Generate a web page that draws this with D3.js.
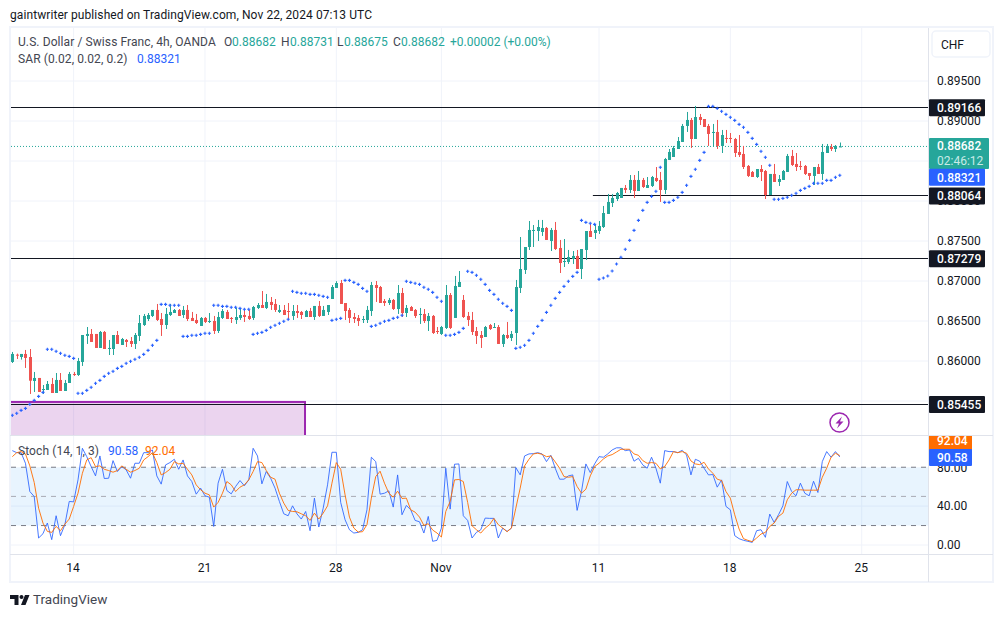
<!DOCTYPE html>
<html>
<head>
<meta charset="utf-8">
<script src="https://cdnjs.cloudflare.com/ajax/libs/d3/7.8.5/d3.min.js"></script>
<style>
    html, body { margin: 0; padding: 0; background: #fff; }
    svg { display: block; }
    text { font-family: Roboto, "Noto Sans", sans-serif; font-size: 12px; fill: #131722; }
    .axis path { display: none; }
</style>
</head>
<body>
<svg id="chart" width="1004" height="617"></svg>
<script>
// candles, 4h bars
const opens = [
    .85988,.86079,.86050,.86088,.86050,.85750,.85788,.85638,.85638,.85713,
    .85600,.85763,.85625,.85725,.85838,.85825,.85988,.86313,.86338,.86338,
    .86163,.86363,.86150,.86150,.86325,.86200,.86263,.86250,.86213,.86313,
    .86450,.86525,.86563,.86638,.86525,.86450,.86575,.86600,.86638,.86575,
    .86638,.86538,.86513,.86438,.86538,.86488,.86500,.86375,.86538,.86613,
    .86538,.86513,.86538,.86575,.86563,.86538,.86663,.86700,.86663,.86738,
    .86713,.86613,.86638,.86625,.86563,.86625,.86613,.86550,.86625,.86550,
    .86688,.86563,.86613,.86775,.86913,.86975,.86725,.86638,.86550,.86538,
    .86513,.86513,.86625,.86950,.86925,.86750,.86725,.86763,.86650,.86850,
    .86600,.86675,.86638,.86575,.86588,.86500,.86563,.86375,.86338,.86413,
    .86825,.86538,.86925,.86763,.86563,.86513,.86375,.86325,.86300,.86450,
    .86413,.86425,.86213,.86325,.86288,.86350,.86913,.87138,.87425,.87625,
    .87625,.87613,.87663,.87500,.87638,.87413,.87238,.87238,.87275,.87313,
    .87150,.87388,.87625,.87600,.87625,.87675,.87838,.87975,.88025,.88038,
    .88163,.88138,.88263,.88125,.88263,.88163,.88188,.88288,.88263,.88138,
    .88513,.88550,.88650,.88738,.88938,.89013,.88775,.89050,.89025,.88938,
    .88850,.88863,.88688,.88788,.88788,.88775,.88613,.88588,.88438,.88363,
    .88300,.88400,.88375,.88075,.88338,.88238,.88263,.88363,.88563,.88463,
    .88438,.88438,.88350,.88313,.88425,.88338,.88600,.88675,.88650,.88682
];
const highs = [
    .86113,.86092,.86088,.86138,.86150,.85863,.85788,.85700,.85750,.85788,
    .85850,.85850,.85763,.85863,.85863,.86038,.86325,.86425,.86400,.86338,
    .86375,.86375,.86263,.86325,.86375,.86288,.86275,.86300,.86350,.86575,
    .86588,.86600,.86638,.86713,.86600,.86663,.86713,.86650,.86650,.86688,
    .86700,.86613,.86588,.86550,.86550,.86600,.86563,.86613,.86650,.86638,
    .86550,.86663,.86663,.86638,.86638,.86688,.86725,.86875,.86838,.86800,
    .86775,.86700,.86700,.86725,.86700,.86700,.86625,.86638,.86663,.86688,
    .86750,.86688,.86700,.86950,.86998,.87013,.86725,.86663,.86600,.86575,
    .86563,.86688,.86988,.87000,.86938,.86775,.86788,.86775,.86950,.86913,
    .86700,.86688,.86650,.86663,.86650,.86600,.86575,.86425,.86438,.86950,
    .86850,.87063,.87125,.86825,.86613,.86613,.86425,.86375,.86438,.86463,
    .86475,.86450,.86338,.86488,.86375,.87013,.87550,.87425,.87750,.87700,
    .87763,.87763,.87675,.87663,.87738,.87513,.87525,.87388,.87375,.87388,
    .87400,.87625,.87713,.87713,.87750,.87938,.88088,.88088,.88113,.88163,
    .88200,.88325,.88325,.88375,.88288,.88300,.88313,.88425,.88363,.88538,
    .88650,.88688,.88800,.88963,.89113,.89038,.89188,.89088,.89025,.88963,
    .88963,.89013,.88888,.88888,.88850,.88788,.88825,.88688,.88450,.88375,
    .88400,.88450,.88388,.88338,.88463,.88325,.88388,.88588,.88638,.88600,
    .88500,.88450,.88350,.88425,.88463,.88713,.88713,.88713,.88700,.88731
];
const lows = [
    .85975,.86025,.86017,.85913,.85588,.85613,.85613,.85588,.85638,.85600,
    .85600,.85625,.85625,.85725,.85813,.85813,.85938,.86213,.86238,.86163,
    .86163,.86150,.86075,.86075,.86213,.86200,.86175,.86175,.86150,.86250,
    .86438,.86500,.86550,.86500,.86313,.86400,.86563,.86600,.86563,.86538,
    .86500,.86500,.86463,.86438,.86475,.86475,.86338,.86350,.86525,.86525,
    .86475,.86463,.86513,.86488,.86513,.86513,.86650,.86663,.86650,.86638,
    .86613,.86600,.86575,.86513,.86513,.86538,.86525,.86550,.86550,.86513,
    .86550,.86563,.86575,.86775,.86913,.86713,.86513,.86475,.86475,.86438,
    .86475,.86475,.86563,.86738,.86725,.86688,.86700,.86638,.86588,.86550,
    .86550,.86625,.86538,.86463,.86475,.86375,.86338,.86338,.86325,.86400,
    .86400,.86538,.86925,.86538,.86438,.86325,.86213,.86163,.86300,.86388,
    .86413,.86213,.86175,.86275,.86250,.86200,.86850,.87088,.87388,.87425,
    .87500,.87563,.87513,.87375,.87388,.87100,.87175,.87213,.87213,.87150,
    .87025,.87263,.87550,.87525,.87588,.87663,.87838,.87925,.88000,.88038,
    .88100,.88100,.88038,.88125,.88163,.88163,.88175,.88238,.87988,.88088,
    .88513,.88550,.88650,.88738,.88863,.88663,.88775,.88950,.88925,.88688,
    .88675,.88650,.88600,.88725,.88725,.88550,.88550,.88400,.88300,.88300,
    .88288,.88250,.88025,.88075,.88238,.88188,.88263,.88363,.88438,.88375,
    .88388,.88325,.88263,.88200,.88338,.88263,.88600,.88625,.88613,.88675
];
const closes = [
    .86088,.86067,.86088,.86038,.85754,.85788,.85613,.85650,.85713,.85600,
    .85763,.85625,.85725,.85838,.85825,.86000,.86325,.86338,.86238,.86163,
    .86363,.86150,.86163,.86325,.86213,.86275,.86238,.86213,.86325,.86475,
    .86563,.86575,.86638,.86513,.86450,.86588,.86613,.86638,.86563,.86638,
    .86525,.86500,.86475,.86538,.86488,.86500,.86375,.86550,.86625,.86525,
    .86525,.86550,.86575,.86550,.86525,.86675,.86700,.86663,.86738,.86700,
    .86638,.86638,.86575,.86613,.86625,.86600,.86575,.86625,.86550,.86688,
    .86563,.86638,.86700,.86925,.86975,.86713,.86625,.86538,.86525,.86500,
    .86525,.86638,.86950,.86913,.86725,.86725,.86763,.86650,.86850,.86600,
    .86663,.86625,.86563,.86588,.86500,.86563,.86350,.86363,.86425,.86825,
    .86413,.86938,.86988,.86550,.86513,.86363,.86313,.86288,.86425,.86400,
    .86425,.86213,.86325,.86288,.86338,.86925,.87150,.87425,.87638,.87638,
    .87675,.87663,.87513,.87638,.87400,.87225,.87250,.87300,.87313,.87150,
    .87400,.87625,.87550,.87638,.87688,.87850,.87988,.88038,.88100,.88163,
    .88138,.88263,.88125,.88263,.88175,.88200,.88300,.88250,.88138,.88525,
    .88613,.88663,.88750,.88938,.89013,.88775,.89050,.89013,.88925,.88838,
    .88863,.88688,.88825,.88775,.88775,.88600,.88575,.88425,.88313,.88300,
    .88400,.88363,.88075,.88338,.88238,.88275,.88375,.88563,.88450,.88425,
    .88425,.88338,.88313,.88425,.88338,.88613,.88688,.88650,.88688,.88682
];

// parabolic SAR, one value per bar
const sar = [
    .85321,.85346,.85383,.85408,.85458,.85508,.85558,.85608,.86146,.86146,
    .86121,.86096,.86071,.86058,.86033,.85596,.85596,.85633,.85671,.85721,
    .85758,.85808,.85846,.85871,.85908,.85933,.85971,.85996,.86021,.86046,
    .86083,.86133,.86196,.86258,.86708,.86708,.86696,.86696,.86696,.86308,
    .86308,.86321,.86321,.86333,.86346,.86346,.86696,.86696,.86683,.86683,
    .86671,.86671,.86658,.86646,.86646,.86333,.86346,.86358,.86383,.86421,
    .86446,.86471,.86496,.86521,.86871,.86858,.86846,.86846,.86833,.86833,
    .86821,.86808,.86796,.86508,.86521,.86533,.87008,.87008,.86983,.86958,
    .86908,.86871,.86433,.86446,.86471,.86496,.86508,.86533,.86546,.86571,
    .86996,.86983,.86971,.86958,.86921,.86896,.86858,.86796,.86746,.86321,
    .86321,.86333,.86358,.86408,.87121,.87108,.87071,.87021,.86958,.86883,
    .86833,.86771,.86721,.86683,.86633,.86158,.86171,.86196,.86258,.86346,
    .86433,.86508,.86608,.86696,.86783,.86858,.86933,.86996,.87058,.87108,
    .87758,.87733,.87721,.87708,.87021,.87038,.87063,.87125,.87213,.87296,
    .87396,.87508,.87633,.87758,.87883,.87983,.88058,.88121,.88421,.87983,
    .87983,.88008,.88046,.88108,.88196,.88308,.88396,.88508,.88608,.89183,
    .89183,.89158,.89121,.89083,.89046,.89008,.88958,.88921,.88858,.88783,
    .88708,.88621,.88546,.88446,.88021,.88021,.88033,.88046,.88071,.88096,
    .88133,.88158,.88183,.88221,.88221,.88221,.88258,.88258,.88296,.88321
];

// stochastic %K and %D
const stochK = [
    97.1,95.0,95.0,84.1,55.0,49.9,7.2,11.6,22.6,5.5,
    30.1,9.6,20.9,44.8,44.4,67.0,99.5,90.9,80.7,71.1,
    91.6,68.4,68.7,86.8,75.6,80.7,77.3,68.7,84.1,84.1,
    95.0,95.0,97.8,71.1,62.6,82.4,84.8,88.2,77.9,87.5,
    71.1,65.3,52.3,58.5,50.6,49.2,19.1,63.6,77.9,56.1,
    52.6,60.2,66.3,60.9,67.0,99.5,91.6,62.9,75.6,68.7,
    58.5,44.8,32.1,30.1,40.3,32.1,26.7,34.5,14.7,48.2,
    18.5,37.9,61.9,95.4,95.4,43.8,26.0,15.7,12.3,13.0,
    15.7,36.2,90.3,85.8,52.3,53.3,55.7,39.0,72.1,31.1,
    40.7,36.2,25.3,23.9,12.3,29.4,3.8,4.8,17.4,79.0,
    36.9,83.1,83.4,30.1,25.3,7.2,13.0,15.7,27.7,27.4,
    27.4,7.2,17.4,14.0,17.4,79.7,72.1,91.6,93.7,94.0,
    95.0,93.7,85.8,92.3,79.0,67.7,67.7,71.1,72.1,35.6,
    55.0,83.4,74.5,83.4,90.9,90.3,93.7,97.8,100,100,
    97.1,97.8,86.2,89.2,82.4,79.0,90.3,79.0,63.6,97.1,
    96.1,96.1,95.0,97.4,92.6,72.1,88.2,86.2,79.0,72.1,
    72.5,59.5,67.0,39.7,36.2,9.6,6.5,4.8,3.8,2.7,
    14.7,15.7,7.9,31.8,23.2,31.1,40.3,65.3,55.0,50.6,
    63.6,53.3,50.6,65.6,54.0,85.8,96.1,90.3,96.1,90.58
];
const stochD = [
    90.9,95.0,96.1,93.7,81.4,64.3,37.9,22.6,14.0,13.0,
    19.1,14.7,21.5,26.7,39.7,53.3,73.8,87.5,89.9,80.7,
    81.4,77.9,76.6,74.9,76.6,81.4,77.9,74.9,76.6,79.0,
    87.5,90.9,95.0,84.8,72.1,74.5,77.9,85.8,83.4,84.1,
    77.9,72.1,61.9,56.8,53.3,51.6,39.0,43.8,53.3,65.3,
    61.9,55.0,59.5,61.9,67.0,75.6,85.8,84.8,76.6,69.7,
    67.7,53.3,43.1,35.6,34.5,34.2,32.1,30.1,25.3,32.8,
    26.7,32.8,40.3,63.6,84.8,77.9,51.6,28.7,17.4,13.3,
    13.7,20.9,48.2,70.4,75.9,63.6,53.3,49.2,55.4,47.9,
    48.2,36.2,33.8,28.7,20.2,21.9,15.4,12.3,8.2,34.5,
    44.8,67.0,67.4,65.3,43.8,19.8,15.7,12.3,17.4,20.9,
    27.4,20.9,17.4,13.7,17.4,37.9,58.5,81.4,88.2,93.7,
    94.4,93.3,90.9,91.6,85.5,79.0,70.4,69.7,70.4,60.2,
    53.3,57.4,71.1,80.7,84.1,88.5,91.6,93.0,95.7,98.5,
    98.5,98.5,93.7,92.3,86.8,84.1,84.8,84.1,78.3,80.7,
    87.5,96.1,95.0,96.1,94.4,86.5,83.4,82.7,85.1,78.3,
    73.8,67.7,66.3,55.0,48.2,31.1,16.4,6.5,4.8,3.4,
    7.2,11.3,13.0,19.1,22.6,29.4,32.8,46.5,53.3,56.8,
    56.8,56.4,56.4,56.4,56.4,69.7,79.0,90.3,94.4,92.04
];

// axes and drawn levels
const priceGrid = [.895, .89, .885, .88, .875, .87, .865, .86, .855];
const priceTicks = [.895, .89, .885, .88, .875, .87, .865, .86];
const stochTicks = [80, 40, 0];
const stochGrid = [40, 0];
const stochBands = [80, 50, 20];
const dayBars = [14, 44, 74, 98, 134, 164, 194];
const dayLabels = ["14", "21", "28", "Nov", "11", "18", "25"];
const levelPrices = [.89166, .88064, .87279, .85455];
const levelStartBars = [-1, 132.6, -1, -1];
const lastPrice = .88682;
const zoneBars = [-1, 66.85];
const zonePrices = [.85488, .8506];

const svg = d3.select("#chart");
const paneLeft = 11, paneRight = 928, priceTop = 28, paneSplit = 435, stochBottom = 554, frameBottom = 582;
const gridColor = "#f0f3fa", lineColor = "#e0e3eb";
const upColor = "#26a69a", downColor = "#ef5350", blue = "#2962ff", orange = "#ff6d00", ink = "#131722";

// scales
const x = d3.scaleLinear().domain([0, 194]).range([12.33, 861.7]);
const y = d3.scaleLinear().domain([.89, .86]).range([121, 361]);
const yStoch = d3.scaleLinear().domain([0, 100]).range([545, 447.8]);

const bars = opens.map((o, i) => ({i: i, o: o, h: highs[i], l: lows[i], c: closes[i], sar: sar[i]}));

// clips
const defs = svg.append("defs");
defs.append("clipPath").attr("id", "priceClip").append("rect")
    .attr("x", paneLeft).attr("y", priceTop).attr("width", paneRight - paneLeft).attr("height", paneSplit - priceTop);
defs.append("clipPath").attr("id", "stochClip").append("rect")
    .attr("x", paneLeft).attr("y", paneSplit).attr("width", paneRight - paneLeft).attr("height", stochBottom - paneSplit);

// frame
svg.append("rect").attr("x", 10).attr("y", 27).attr("width", 983).attr("height", 555)
    .attr("fill", "#fff").attr("stroke", gridColor).attr("stroke-width", 2);

// grid
const grid = svg.append("g");
grid.selectAll(".gx").data(dayBars.slice()).enter().append("line")
    .attr("x1", d => x(d)).attr("x2", d => x(d))
    .attr("y1", priceTop).attr("y2", stochBottom)
    .attr("stroke", gridColor);
grid.selectAll(".gy").data(priceGrid).enter().append("line")
    .attr("x1", paneLeft).attr("x2", paneRight)
    .attr("y1", d => y(d)).attr("y2", d => y(d))
    .attr("stroke", gridColor);
grid.selectAll(".gs").data(stochGrid).enter().append("line")
    .attr("x1", paneLeft).attr("x2", paneRight)
    .attr("y1", d => yStoch(d)).attr("y2", d => yStoch(d))
    .attr("stroke", gridColor);

// price pane
const price = svg.append("g").attr("clip-path", "url(#priceClip)");

price.append("rect")
    .attr("x", x(zoneBars[0])).attr("y", y(zonePrices[0]))
    .attr("width", x(zoneBars[1]) - x(zoneBars[0]))
    .attr("height", y(zonePrices[1]) - y(zonePrices[0]))
    .attr("fill", "#9c27b0").attr("fill-opacity", 0.2)
    .attr("stroke", "#9c27b0").attr("stroke-width", 2);

price.selectAll(".level").data(levelPrices).enter().append("line")
    .attr("x1", (d, i) => x(levelStartBars[i])).attr("x2", paneRight)
    .attr("y1", d => Math.floor(y(d) - 0.3) + 0.5).attr("y2", d => Math.floor(y(d) - 0.3) + 0.5)
    .attr("stroke", ink).attr("stroke-width", 1);

price.append("line")
    .attr("x1", paneLeft).attr("x2", paneRight)
    .attr("y1", y(lastPrice)).attr("y2", y(lastPrice))
    .attr("stroke", upColor).attr("stroke-dasharray", "1 2");

price.selectAll(".wick").data(bars).enter().append("line")
    .attr("x1", d => Math.round(x(d.i)) + 0.5).attr("x2", d => Math.round(x(d.i)) + 0.5)
    .attr("y1", d => y(d.h)).attr("y2", d => y(d.l))
    .attr("stroke", d => d.c >= d.o ? upColor : downColor);

price.selectAll(".body").data(bars).enter().append("rect")
    .attr("x", d => Math.round(x(d.i)) - 1)
    .attr("y", d => y(Math.max(d.o, d.c)))
    .attr("width", 3)
    .attr("height", d => Math.max(1, Math.abs(y(d.o) - y(d.c))))
    .attr("fill", d => d.c >= d.o ? upColor : downColor);

const cross = d3.symbol().type(d3.symbolCross).size(5.5);
price.selectAll(".sar").data(bars).enter().append("path")
    .attr("d", cross)
    .attr("transform", d => "translate(" + x(d.i) + "," + y(d.sar) + ")")
    .attr("fill", blue);

// alert icon
const icon = svg.append("g").attr("transform", "translate(839.5,422.5)");
icon.append("circle").attr("r", 9.5).attr("fill", "#fff").attr("stroke", "#9c27b0").attr("stroke-width", 1.5);
icon.append("path").attr("d", "M2.5-6L-4 1H-.5L-2.5 6L4-1H.5Z").attr("fill", "#9c27b0");

// stochastic pane
const stoch = svg.append("g").attr("clip-path", "url(#stochClip)");

stoch.append("rect")
    .attr("x", paneLeft).attr("width", paneRight - paneLeft)
    .attr("y", yStoch(stochBands[0])).attr("height", yStoch(stochBands[2]) - yStoch(stochBands[0]))
    .attr("fill", "#2196f3").attr("fill-opacity", 0.1);

stoch.selectAll(".band").data(stochBands).enter().append("line")
    .attr("x1", paneLeft).attr("x2", paneRight)
    .attr("y1", d => yStoch(d)).attr("y2", d => yStoch(d))
    .attr("stroke", d => d === 50 ? "#a8abb4" : "#787b86")
    .attr("stroke-dasharray", "5 5");

const stochLine = d3.line().x((d, i) => x(i)).y(d => yStoch(d));
stoch.append("path").attr("d", stochLine(stochK)).attr("fill", "none").attr("stroke", blue).attr("stroke-opacity", 0.85);
stoch.append("path").attr("d", stochLine(stochD)).attr("fill", "none").attr("stroke", orange).attr("stroke-opacity", 0.9);

// pane borders
svg.append("line").attr("x1", 10).attr("x2", 993).attr("y1", paneSplit + 0.5).attr("y2", paneSplit + 0.5).attr("stroke", lineColor);
svg.append("line").attr("x1", 10).attr("x2", 993).attr("y1", stochBottom + 0.5).attr("y2", stochBottom + 0.5).attr("stroke", lineColor);
svg.append("line").attr("x1", paneRight + 0.5).attr("x2", paneRight + 0.5).attr("y1", priceTop).attr("y2", frameBottom).attr("stroke", lineColor);

// axes
const priceAxis = svg.append("g").attr("class", "axis")
    .attr("transform", "translate(" + paneRight + ",0)")
    .call(d3.axisRight(y).tickValues(priceTicks).tickSize(0).tickPadding(9).tickFormat(d3.format(".5f")));
const stochAxis = svg.append("g").attr("class", "axis")
    .attr("transform", "translate(" + paneRight + ",0)")
    .call(d3.axisRight(yStoch).tickValues(stochTicks).tickSize(0).tickPadding(9).tickFormat(d3.format(".2f")));
const timeAxis = svg.append("g").attr("class", "axis")
    .attr("transform", "translate(-1," + stochBottom + ")")
    .call(d3.axisBottom(x).tickValues(dayBars).tickSize(0).tickPadding(9).tickFormat((d, i) => dayLabels[i]));
svg.selectAll(".axis text").style("font-family", "Roboto, 'Noto Sans', sans-serif").style("font-size", "12px").attr("fill", ink);

// price tags, the label can sit a little off its price when tags collide
function addTag(value, bg, w, h, nudge) {
    const cy = y(value) + nudge;
    svg.append("rect").attr("x", 929).attr("y", cy - h / 2).attr("width", w).attr("height", h).attr("rx", 1).attr("fill", bg);
    svg.append("text").attr("x", 937).attr("y", cy + 4.5)
        .style("fill", "#fff").style("font-weight", 500).text(d3.format(".5f")(value));
}
levelPrices.forEach(v => addTag(v, ink, 56, 17, 0));

// last price tag with countdown
svg.append("rect").attr("x", 929).attr("y", 138).attr("width", 60).attr("height", 31).attr("rx", 1).attr("fill", upColor);
svg.append("text").attr("x", 937).attr("y", y(lastPrice) + 4).style("fill", "#fff").style("font-weight", 500).text(d3.format(".5f")(lastPrice));
svg.append("text").attr("x", 937).attr("y", 165).style("fill", "#c8ebe7").text("02:46:12");
addTag(sar[sar.length - 1], blue, 56, 17, 2);

// stochastic tags
svg.append("rect").attr("x", 929).attr("y", 436).attr("width", 43).attr("height", 14).attr("fill", orange);
svg.append("text").attr("x", 937).attr("y", 445).style("fill", "#fff").style("font-weight", 500).text("92.04");
svg.append("rect").attr("x", 929).attr("y", 449).attr("width", 43).attr("height", 17).attr("rx", 1).attr("fill", blue);
svg.append("text").attr("x", 937).attr("y", 462).style("fill", "#fff").style("font-weight", 500).text("90.58");

// currency button
svg.append("rect").attr("x", 932).attr("y", 31).attr("width", 58).attr("height", 26).attr("rx", 4)
    .attr("fill", "#fff").attr("stroke", gridColor).attr("stroke-width", 1.5);
svg.append("text").attr("x", 941).attr("y", 49).text("CHF");

// header and legends
svg.append("text").attr("x", 10).attr("y", 19).style("letter-spacing", "0.08px").text("gaintwriter published on TradingView.com, Nov 22, 2024 07:13 UTC");
const legend = [
    {x: 18, y: 46, t: "U.S. Dollar / Swiss Franc, 4h, OANDA", c: "#434651"},
    {x: 224, y: 46, t: "O", c: "#434651"}, {x: 232, y: 46, t: "0.88682", c: upColor},
    {x: 281, y: 46, t: "H", c: "#434651"}, {x: 290, y: 46, t: "0.88731", c: upColor},
    {x: 337, y: 46, t: "L", c: "#434651"}, {x: 344, y: 46, t: "0.88675", c: upColor},
    {x: 393, y: 46, t: "C", c: "#434651"}, {x: 401, y: 46, t: "0.88682", c: upColor},
    {x: 450, y: 46, t: "+0.00002 (+0.00%)", c: upColor},
    {x: 18, y: 63, t: "SAR (0.02, 0.02, 0.2)", c: "#434651"}, {x: 137, y: 63, t: "0.88321", c: blue},
    {x: 18, y: 455, t: "Stoch (14, 1, 3)", c: "#434651"}, {x: 108, y: 455, t: "90.58", c: blue}, {x: 145, y: 455, t: "92.04", c: orange}
];
svg.selectAll(".legend").data(legend).enter().append("text")
    .attr("x", d => d.x).attr("y", d => d.y).style("fill", d => d.c)
    .style("letter-spacing", d => d.x === 18 ? "0.09px" : null).text(d => d.t);

// logo
svg.append("path").attr("d", "M10 595h8.5v10h-4v-6H10ZM25 595h4.5l-4 10H21ZM21.5 595a2 2 0 1 1-.01 0Z").attr("fill", ink);
svg.append("text").attr("x", 33).attr("y", 604).style("font-size", "13.5px").style("fill", "#434651").text("TradingView");
</script>
</body>
</html>
